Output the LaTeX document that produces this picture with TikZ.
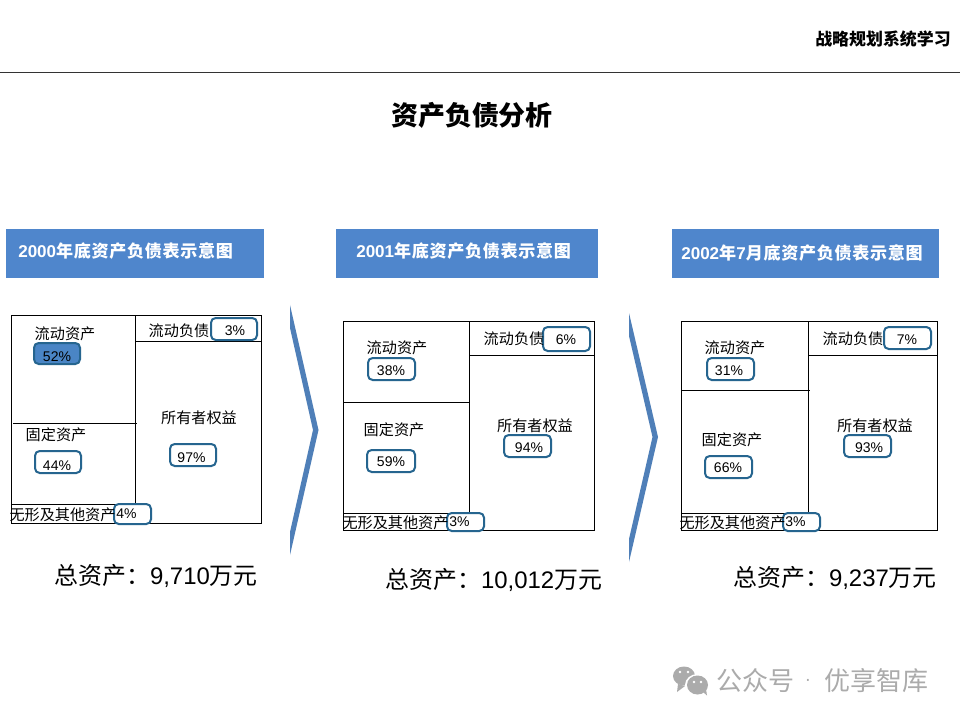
\documentclass[tikz,border=0pt]{standalone}
\usepackage{fontspec}
\setmainfont{Liberation Sans}
\newfontfamily\cjk{Noto Sans CJK SC}
\newfontfamily\cjkls[LetterSpace=4]{Noto Sans CJK SC}
\definecolor{hdrblue}{HTML}{4F86CC}
\definecolor{chev}{HTML}{4F7FB8}
\definecolor{pillline}{HTML}{26658F}
\definecolor{pillfill}{HTML}{4A85C5}
\definecolor{wm}{HTML}{ABABAB}
\newcommand{\fs}[1]{\fontsize{#1}{#1}\selectfont}
\tikzset{
  frame/.style={draw=black,line width=0.7pt},
  divider/.style={draw=black,line width=0.7pt},
  pill/.style={draw=pillline,line width=1.5pt,fill=white,rounded corners=3.5pt},
  hdr/.style={fill=hdrblue,draw=none},
  chevron/.style={fill=chev,draw=none},
  lab/.style={font=\fs{11.35}\cjk,inner sep=0pt,text=black},
  pct/.style={font=\fs{10.5},inner sep=0pt,text=black},
  hdrtext/.style={font=\fs{12.8}\bfseries,inner sep=0pt,text=white,anchor=west},
  total/.style={font=\fs{17.95},inner sep=0pt,text=black,anchor=west},
  wmtext/.style={font=\fs{19.5}\cjk,text=wm,inner sep=0pt,anchor=west},
}
\begin{document}
\begin{tikzpicture}[x=0.75pt,y=-0.75pt]
\useasboundingbox (0,0) rectangle (960,720);
\fill[white] (0,0) rectangle (960,720);
% header
\draw[black!80,line width=0.6pt] (0,72) -- (960,72);
\node[font=\fs{12.7}\cjk\bfseries,inner sep=0pt,anchor=east] (brand) at (951,39) {战略规划系统学习};
\node[font=\fs{20.2}\cjk\bfseries,inner sep=0pt] (title) at (472,115) {资产负债分析};
% banners
\fill[hdr] (6,229) rectangle (264,278);
\fill[hdr] (336,229) rectangle (598,278);
\fill[hdr] (672,229) rectangle (939,278);
\node[hdrtext] (h1) at (18,251) {2000{\cjkls 年底资产负债表示意图}};
\node[hdrtext] (h2) at (356,251) {2001{\cjkls 年底资产负债表示意图}};
\node[hdrtext] (h3) at (681,253) {2002{\cjkls 年}7{\cjkls 月底资产负债表示意图}};
% chevrons
\fill[chevron] (290,305) -- (318.5,430) -- (290,555) -- (290,532) -- (313,430) -- (290,328) -- cycle;
\fill[chevron] (629,313) -- (658,437) -- (629,562) -- (629,539) -- (652.5,437) -- (629,336) -- cycle;
% ---- box 1
\draw[frame] (11,315.5) rectangle (261,523);
\draw[divider] (135.5,315.5) -- (135.5,523);
\draw[divider] (13,423) -- (137,423);
\draw[divider] (11,504) -- (135.5,504);
\draw[divider] (135.5,341.5) -- (261,341.5);
\draw[pill,fill=pillfill] (34,343) rectangle (80,364);
\draw[pill] (211,318) rectangle (257,340);
\draw[pill] (35,451) rectangle (81,473);
\draw[pill] (170,444) rectangle (216,466);
\draw[pill] (114,504) rectangle (151,524);
\node[lab] (a1) at (65,334) {流动资产};
\node[lab] (a2) at (56,435) {固定资产};
\node[lab] (a3) at (62.5,515) {无形及其他资产};
\node[lab] (a4) at (179,331) {流动负债};
\node[lab] (a5) at (199,418) {所有者权益};
\node[pct] (p1) at (57,357) {52\%};
\node[pct] (p2) at (235,331) {3\%};
\node[pct] (p3) at (57,466) {44\%};
\node[pct] (p4) at (191.5,457.5) {97\%};
\node[pct] (p5) at (126.5,514) {4\%};
\node[total] (t1) at (54,576) {{\cjk 总资产：}9,710{\cjk 万元}};
% ---- box 2
\draw[frame] (343.5,321) rectangle (594,530);
\draw[divider] (469,321) -- (469,530);
\draw[divider] (343.5,402) -- (469,402);
\draw[divider] (343.5,513) -- (469,513);
\draw[divider] (469,355) -- (594,355);
\draw[pill] (543,327) rectangle (590,351);
\draw[pill] (368,358) rectangle (415,380);
\draw[pill] (367,450) rectangle (415,472);
\draw[pill] (504,435) rectangle (551,457);
\draw[pill] (447,513) rectangle (484,531);
\node[lab] (b1) at (397,348) {流动资产};
\node[lab] (b2) at (394,430) {固定资产};
\node[lab] (b3) at (395.5,523) {无形及其他资产};
\node[lab] (b4) at (514,339) {流动负债};
\node[lab] (b5) at (535,426) {所有者权益};
\node[pct] (q1) at (391,371) {38\%};
\node[pct] (q2) at (566,340) {6\%};
\node[pct] (q3) at (391,462) {59\%};
\node[pct] (q4) at (529,448) {94\%};
\node[pct] (q5) at (459.5,522) {3\%};
\node[total] (t2) at (385,580) {{\cjk 总资产：}10,012{\cjk 万元}};
% ---- box 3
\draw[frame] (681,321) rectangle (937,530);
\draw[divider] (808.5,321) -- (808.5,530);
\draw[divider] (681,390) -- (810,390);
\draw[divider] (681,513) -- (808.5,513);
\draw[divider] (808.5,355) -- (937,355);
\draw[pill] (884,327) rectangle (931,349);
\draw[pill] (707,358) rectangle (754,380);
\draw[pill] (705,456) rectangle (752,478);
\draw[pill] (844,435) rectangle (891,457);
\draw[pill] (783,513) rectangle (820,531);
\node[lab] (c1) at (735,348) {流动资产};
\node[lab] (c2) at (732,440) {固定资产};
\node[lab] (c3) at (732.5,523) {无形及其他资产};
\node[lab] (c4) at (853,339) {流动负债};
\node[lab] (c5) at (875,426) {所有者权益};
\node[pct] (r1) at (729,371) {31\%};
\node[pct] (r2) at (907,340) {7\%};
\node[pct] (r3) at (728,468) {66\%};
\node[pct] (r4) at (869,448) {93\%};
\node[pct] (r5) at (795.5,522) {3\%};
\node[total] (t3) at (733,578) {{\cjk 总资产：}9,237{\cjk 万元}};
% watermark
\fill[wm] (684,676) ellipse (11 and 9.5);
\fill[wm] (678,684) -- (677,692) -- (685,686) -- cycle;
\fill[white] (697.5,685) ellipse (12.5 and 11);
\fill[wm] (697.5,685) ellipse (10.5 and 9.5);
\fill[wm] (703,692) -- (707,695.5) -- (706,689) -- cycle;
\foreach \ex/\ey in {680/672,688/672,694/682,701/682}{\fill[white] (\ex,\ey) circle (1.4);}
\node[wmtext] (wmark) at (716,681) {公众号};
\node[font=\fs{14},text=wm,inner sep=0pt] (wdot) at (808,682) {·};
\node[wmtext] (wname) at (824,681) {优享智库};
\end{tikzpicture}
\end{document}
